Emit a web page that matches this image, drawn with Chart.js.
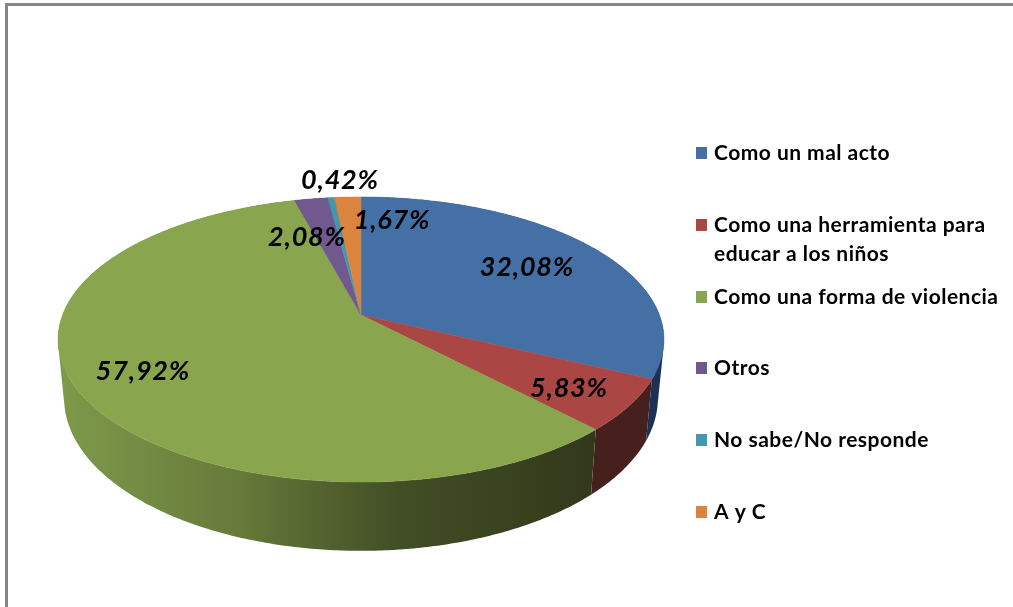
<!DOCTYPE html>
<html><head><meta charset="utf-8">
<style>html,body{margin:0;padding:0;background:#fff}canvas{display:block;filter:blur(0.4px)}</style>
<script src="https://cdn.jsdelivr.net/npm/chart.js@4"></script>
</head><body><canvas id="c" width="1013" height="607"></canvas>
<script>
const categories = ['Como un mal acto', ['Como una herramienta para','educar a los niños'], 'Como una forma de violencia', 'Otros', 'No sabe/No responde', 'A y C'];
const values = [32.08, 5.83, 57.92, 2.08, 0.42, 1.67];
const colors = ['#4470A6','#AA4643','#89A54E','#71588F','#4198AF','#DB843D'];
const sideStops = [
  ['#1B3255','#1B3255','#1B3255','#1B3255'],['#45201D','#45201D','#45201D','#45201D'],
  ['#7F9A4A','#667A3A','#424E25','#33391B'],
  ['#3A2C4A','#3A2C4A','#3A2C4A','#3A2C4A'],['#214E5A','#214E5A','#214E5A','#214E5A'],['#6F421E','#6F421E','#6F421E','#6F421E']
];
const labelAnchors = [[527,267],[569,388],[143,371],[307,237],[340,180],[392,220]];
const legendRows = [153,225,297,368,440,512];

// perspective of the tilted disc, relative to the pie radius Chart.js computes
const TILT = 0.172, KX = 1.022, KY = 0.4737, DEPTH = 0.195, SHRINK = 0.98;

function project(el, a, lower){
  const R = el.outerRadius, u = Math.cos(a), v = Math.sin(a), w = 1 - TILT*v;
  return {
    x: el.x + R*KX*u/w*(lower ? SHRINK : 1),
    y: el.y + R*(KY*v + (lower ? DEPTH : 0))/w
  };
}
function rim(ctx, el, a0, a1){
  const n = Math.max(2, Math.ceil(Math.abs(a1-a0)/0.01));
  for(let i=0;i<=n;i++){
    const p = project(el, a0+(a1-a0)*i/n, false);
    ctx.lineTo(p.x,p.y);
  }
}
function signedArea(p){
  let s = 0;
  p.forEach((q,i)=>{ const r = p[(i+1)%p.length]; s += q.x*r.y - r.x*q.y; });
  return s;
}
const pie3d = {
  id:'pie3d',
  beforeDraw(chart){
    const ctx = chart.ctx;
    ctx.save();
    ctx.fillStyle = '#fff'; ctx.fillRect(0,0,1013,607);
    ctx.fillStyle = '#868686';
    ctx.fillRect(5,3,1008,3); ctx.fillRect(5,3,3,604);
    ctx.restore();
  },
  beforeDatasetDraw(chart){
    const ctx = chart.ctx, arcs = chart.getDatasetMeta(0).data;
    ctx.save();
    arcs.forEach((el,i)=>{
      const g = ctx.createLinearGradient(58,0,590,0);
      [0,0.34,0.64,1].forEach((s,k)=>g.addColorStop(s,sideStops[i][k]));
      ctx.fillStyle = g;
      const n = Math.max(2, Math.ceil((el.endAngle-el.startAngle)/0.01));
      ctx.beginPath();
      for(let k=0;k<n;k++){
        const a0 = el.startAngle+(el.endAngle-el.startAngle)*k/n;
        const a1 = el.startAngle+(el.endAngle-el.startAngle)*(k+1)/n;
        const p = [project(el,a0,false),project(el,a1,false),project(el,a1,true),project(el,a0,true)];
        if(signedArea(p) < 0) p.reverse();
        p.forEach((q,j)=> j ? ctx.lineTo(q.x,q.y) : ctx.moveTo(q.x,q.y));
        ctx.closePath();
      }
      ctx.fill('nonzero');
    });
    arcs.forEach((el,i)=>{
      ctx.beginPath();
      ctx.moveTo(el.x,el.y);
      rim(ctx,el,el.startAngle,el.endAngle);
      ctx.closePath();
      ctx.fillStyle = colors[i]; ctx.strokeStyle = colors[i]; ctx.lineWidth = 0.5;
      ctx.fill(); ctx.stroke();
    });
    ctx.restore();
    return false;
  },
  afterDatasetsDraw(chart){
    const ctx = chart.ctx;
    ctx.save();
    ctx.fillStyle = '#000';
    ctx.textAlign = 'center'; ctx.textBaseline = 'middle';
    ctx.font = 'italic bold 27px Lato';
    if('letterSpacing' in ctx) ctx.letterSpacing = '0.8px';
    values.forEach((v,i)=>{
      ctx.fillText(v.toFixed(2).replace('.',',')+'%', labelAnchors[i][0], labelAnchors[i][1]);
    });
    ctx.textAlign = 'left';
    ctx.font = 'bold 21px Lato';
    if('letterSpacing' in ctx) ctx.letterSpacing = '0.48px';
    categories.forEach((c,i)=>{
      const y = legendRows[i];
      ctx.fillStyle = colors[i];
      ctx.fillRect(696,y-6,11,12);
      ctx.fillStyle = '#000';
      [].concat(c).forEach((line,k)=>ctx.fillText(line,714,y+k*29));
    });
    ctx.restore();
  }
};
new Chart(document.getElementById('c'),{
  type:'pie',
  data:{labels:categories.map(c=>[].concat(c).join(' ')),datasets:[{data:values,backgroundColor:colors,borderWidth:0}]},
  options:{
    responsive:false,animation:false,events:[],
    layout:{padding:{left:69,right:360,top:23,bottom:0}},
    plugins:{legend:{display:false},tooltip:{enabled:false}}
  },
  plugins:[pie3d]
});
</script></body></html>
